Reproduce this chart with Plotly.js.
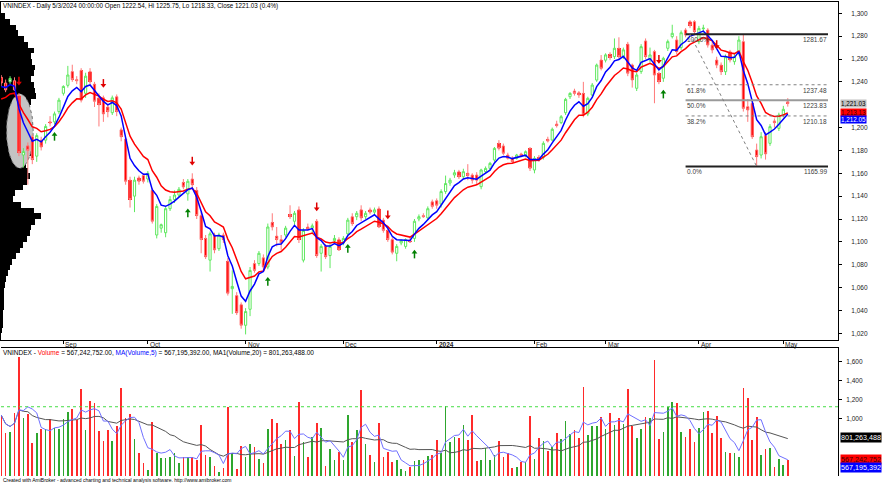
<!DOCTYPE html>
<html><head><meta charset="utf-8">
<script src="https://cdn.plot.ly/plotly-3.0.1.min.js"></script>
<style>html,body{margin:0;padding:0;background:#fff;}#chart{width:884px;height:500px;}</style>
</head><body><div id="chart"></div>
<script>
// ---------------- DATA ----------------
const dates = [
'2023-08-14','2023-08-15','2023-08-16','2023-08-17','2023-08-18','2023-08-21','2023-08-22','2023-08-23','2023-08-24','2023-08-25','2023-08-28','2023-08-29','2023-08-30','2023-08-31',
'2023-09-05','2023-09-06','2023-09-07','2023-09-08','2023-09-11','2023-09-12','2023-09-13','2023-09-14','2023-09-15','2023-09-18','2023-09-19','2023-09-20','2023-09-21','2023-09-22','2023-09-25','2023-09-26','2023-09-27','2023-09-28','2023-09-29',
'2023-10-02','2023-10-03','2023-10-04','2023-10-05','2023-10-06','2023-10-09','2023-10-10','2023-10-11','2023-10-12','2023-10-13','2023-10-16','2023-10-17','2023-10-18','2023-10-19','2023-10-20','2023-10-23','2023-10-24','2023-10-25','2023-10-26','2023-10-27','2023-10-30','2023-10-31',
'2023-11-01','2023-11-02','2023-11-03','2023-11-06','2023-11-07','2023-11-08','2023-11-09','2023-11-10','2023-11-13','2023-11-14','2023-11-15','2023-11-16','2023-11-17','2023-11-20','2023-11-21','2023-11-22','2023-11-23','2023-11-24','2023-11-27','2023-11-28','2023-11-29','2023-11-30',
'2023-12-01','2023-12-04','2023-12-05','2023-12-06','2023-12-07','2023-12-08','2023-12-11','2023-12-12','2023-12-13','2023-12-14','2023-12-15','2023-12-18','2023-12-19','2023-12-20','2023-12-21','2023-12-22','2023-12-25','2023-12-26','2023-12-27','2023-12-28','2023-12-29',
'2024-01-02','2024-01-03','2024-01-04','2024-01-05','2024-01-08','2024-01-09','2024-01-10','2024-01-11','2024-01-12','2024-01-15','2024-01-16','2024-01-17','2024-01-18','2024-01-19','2024-01-22','2024-01-23','2024-01-24','2024-01-25','2024-01-26','2024-01-29','2024-01-30','2024-01-31',
'2024-02-01','2024-02-02','2024-02-05','2024-02-06','2024-02-07','2024-02-15','2024-02-16','2024-02-19','2024-02-20','2024-02-21','2024-02-22','2024-02-23','2024-02-26','2024-02-27','2024-02-28','2024-02-29',
'2024-03-01','2024-03-04','2024-03-05','2024-03-06','2024-03-07','2024-03-08','2024-03-11','2024-03-12','2024-03-13','2024-03-14','2024-03-15','2024-03-18','2024-03-19','2024-03-20','2024-03-21','2024-03-22','2024-03-25','2024-03-26','2024-03-27','2024-03-28','2024-03-29',
'2024-04-01','2024-04-02','2024-04-03','2024-04-04','2024-04-05','2024-04-08','2024-04-09','2024-04-10','2024-04-11','2024-04-12','2024-04-15','2024-04-16','2024-04-17','2024-04-19','2024-04-22','2024-04-23','2024-04-24','2024-04-25','2024-04-26',
'2024-05-02','2024-05-03'];

const openP = [1244,1239,1240,1241,1228,1176,1184,1192,1175,1189,1189,1205,1205,1214,
1230,1237,1249,1242,1250,1230,1249,1238,1226,1226,1218,1213,1227,1198,1190,1154,1140,1156,1158,
1155,1145,1106,1112,1108,1129,1137,1141,1152,1142,1155,1145,1123,1103,1084,1106,1094,1106,1083,1059,1053,1045,
1027,1041,1081,1081,1086,1078,1117,1105,1102,1106,1124,1118,1128,1084,1113,1112,1118,1090,1096,1088,1101,1102,
1099,1107,1122,1122,1128,1122,1128,1126,1129,1119,1110,1102,1090,1099,1096,1101,1103,1120,1123,1121,1135,
1136,1133,1144,1151.5,1158.5,1161.4,1157,1160,1158.5,1158.5,1148.3,1161.4,1164.3,1171.6,1186.2,1183.9,1176,1173.1,1173.1,1176.9,1175.1,1181.8,
1162.9,1174,1174,1189.7,1189.1,1203.1,1204.3,1213,1227,1232,1230.5,1229.9,1211.9,1228.5,1241.6,1259.1,
1259,1264.1,1262.1,1269.4,1262.1,1272.9,1254.8,1234.4,1249,1275.8,1259.2,1266.5,1247.5,1243.2,1269.4,1279.6,1276.7,1270,1285.4,1292.7,1292.7,
1275.2,1286.5,1285.4,1272.2,1259.1,1254.7,1248.9,1266.4,1257.7,1265,1275.2,1218.3,1221.2,1180.4,1176,1193,1186.2,1205.8,1199.3,
1211,1222.54];

const highP = [1246,1242,1245,1244,1230,1182,1187,1194,1195,1192,1203,1210,1214,1226,
1237,1254,1255,1245,1252,1248,1252,1240,1230,1228,1220,1228,1229,1200,1192,1157,1157,1158,1160,
1162,1147,1133,1116,1131,1140,1145,1148,1155,1155,1160,1148,1126,1106,1109,1108,1108,1108,1086,1075,1056,1047,
1042,1078,1084,1092,1089,1116,1125,1113,1106,1114,1132,1127,1131,1112,1116,1116,1120,1098,1098,1098,1106,1104,
1105,1121,1125,1127,1132,1127,1130,1130,1131,1121,1113,1104,1098,1102,1103,1104,1120,1124,1125,1131,1137,
1138,1146,1158,1156,1163,1163,1164,1168,1160,1161,1164,1166,1170,1183,1189,1186,1178,1175,1177,1178,1180,1183,
1175,1176,1188,1192,1200,1206,1211,1226,1231,1234,1232,1240,1227,1239,1256,1263.5,
1265,1266,1278,1279,1270,1275,1256,1248,1273,1278,1270,1268,1249,1262,1277,1290,1280,1285,1287,1294,1294,
1289,1290,1287,1275,1262,1257,1264,1268,1265,1280,1281,1225,1224,1186,1196,1196,1203,1208,1213,
1219,1225.75];

const lowP = [1236,1231,1238,1232,1175,1165,1150,1168,1170,1180,1186,1201,1203,1212,
1228,1235,1240,1238,1222,1226,1238,1218,1201,1205,1209,1211,1210,1188,1150,1130,1126,1150,1151,
1152,1116,1103,1108,1104,1127,1134,1139,1146,1136,1148,1120,1090,1085,1074,1090,1092,1099,1053,1037,1036,1024,
1019,1035,1073,1079,1075,1076,1110,1096,1093,1104,1120,1115,1099,1082,1110,1108,1086,1074,1085,1077,1099,1092,
1097,1105,1114,1119,1118,1120,1124,1124,1112,1108,1100,1089,1083,1097,1094,1099,1100,1118,1121,1119,1129,
1129,1130,1142,1149,1156,1155,1155,1154,1151,1150,1146,1160,1163,1170,1180,1176,1172,1169,1172,1174,1174,1162,
1160,1170,1172,1187,1188,1200,1203,1211,1225,1228,1226,1209,1210,1227,1240,1250,
1257,1259,1260,1260,1260,1245,1235,1232,1247,1260,1257,1221.3,1238,1240,1267,1278,1264,1268,1279,1287,1281,
1273,1283,1270,1265,1252,1246,1246,1257,1255,1263,1214,1205,1190,1166,1173,1172,1184,1200,1197,
1209,1218.33];

const closeP = [1239,1233,1243,1233,1178,1179,1180,1172,1193,1183,1201,1204,1212,1224,
1236,1246,1242,1241,1224,1245,1240,1223,1220,1212,1214,1226,1214,1192,1153,1137,1154,1153,1153,
1160,1118,1131,1115,1129,1137,1141,1146,1148,1153,1150,1123,1102,1087,1107,1093,1106,1102,1055,1061,1038,1027,
1039,1075,1075,1090,1078,1113,1113,1102,1099,1112,1122,1125,1102,1110,1111,1114,1088,1096,1087,1096,1103,1093,
1103,1119,1116,1125,1121,1125,1126,1128,1113,1110,1102,1091,1096,1101,1102,1100,1118,1122,1122,1129,1131,
1132,1144,1151,1154,1160.5,1157,1161.4,1158,1154,1154,1162.9,1164.3,1168.7,1181.8,1181.8,1177.5,1173.1,1170.2,1176,1175.1,1178.9,1164.3,
1173.1,1171.6,1186.2,1188.2,1198.5,1201.7,1209.5,1224.7,1229.9,1229.9,1228.5,1211,1225.6,1237.2,1254.7,1251.8,
1263.6,1261.2,1269.4,1262.1,1268,1247.5,1241.7,1246,1270.8,1262.1,1263.6,1246,1240.2,1260.6,1275.2,1282.5,1266.5,1283,1281.1,1289.2,1284,
1286.8,1287,1272.2,1267.9,1254.7,1248.9,1262,1259.1,1262,1276.6,1216.8,1215.4,1192,1174.6,1192,1177,1200.8,1204.3,1211,
1216,1221.03];

// volume, millions of shares
const volumeM = [1039,853,863,1056,1653,1004,1049,748,853,888,888,993,898,888,
993,1074,1098,986,1309,881,1190,1162,874,769,881,765,923,1320,1004,1049,783,642,537,
460,969,642,583,583,600,635,537,593,593,600,565,934,618,593,502,442,484,1127,635,467,713,
600,734,698,572,537,888,993,958,730,776,881,611,1179,751,600,811,951,898,506,681,565,653,
565,1039,758,881,1302,730,618,541,951,600,653,541,565,470,449,495,555,565,565,611,618,
776,635,1137,758,811,800,934,776,1039,555,565,688,565,618,765,600,635,477,495,548,548,1028,
576,793,765,660,706,846,786,976,835,881,793,1337,828,927,927,1021,
891,1063,934,1004,941,1313,927,793,888,1021,1004,1618,783,863,1127,1179,1169,863,804,888,758,
898,1074,1081,846,1028,793,646,635,642,600,1320,1214,776,1021,618,677,688,495,576,
512,567.24];

// buy / sell signal arrows
const buyDates  = ['2023-08-30','2023-10-13','2023-11-08','2023-12-04','2023-12-25','2024-03-20'];
const sellDates = ['2023-08-18','2023-09-18','2023-10-16','2023-11-23','2023-12-15','2024-03-19','2024-04-05'];

// price-volume distribution at the left (relative volume per 5-point price bin)
const profPrice = [1297.5,1292.5,1287.5,1282.5,1277.5,1272.5,1267.5,1262.5,1257.5,1252.5,1247.5,1242.5,1237.5,1232.5,1227.5,1222.5,1217.5,1212.5,1207.5,1202.5,1197.5,1192.5,1187.5,1182.5,1177.5,1172.5,1167.5,1162.5,1157.5,1152.5,1147.5,1142.5,1137.5,1132.5,1127.5,1122.5,1117.5,1112.5,1107.5,1102.5,1097.5,1092.5,1087.5,1082.5,1077.5,1072.5,1067.5,1062.5,1057.5,1052.5,1047.5,1042.5,1037.5,1032.5,1027.5,1022.5];
const profVol = [4,9,15,17,23,27,33,30,31,34,33,30,33,34,35,30,27,26,28,27,26,28,32,33,31,26,25,27,29,26,22,14,12,20,33,40,34,30,29,26,22,19,15,11,9,7,5,4,3,3,2.5,2.5,2,2,1.5,1];

// Fibonacci drawing
const fibHigh = 1281.67, fibLow = 1165.99;
const fibLevels = [1, 0.618, 0.5, 0.382, 0];
const fibLabels = ['100.0%','61.8%','50.0%','38.2%','0.0%'];

// axis labels
const monthTickDates = ['2023-09-05','2023-10-02','2023-11-01','2023-12-01','2024-01-02','2024-02-01','2024-03-01','2024-04-01','2024-05-02'];
const monthTickText  = ['Sep','Oct','Nov','Dec','<b>2024</b>','Feb','Mar','Apr','May'];
const priceTicks = [1020,1040,1060,1080,1100,1120,1140,1160,1180,1200,1240,1260,1280,1300]; // 1,220 is hidden under the close box
const volTicks = [1000,1200,1400,1600];  // 600M / 800M are hidden under the value boxes

// readouts printed on the chart
const headerText = 'VNINDEX - Daily 5/3/2024 00:00:00 Open 1222.54, Hi 1225.75, Lo 1218.33, Close 1221.03 (0.4%)';
const volHeaderText = 'VNINDEX - <span style="color:#ff0000">Volume</span> = 567,242,752.00, <span style="color:#0000ff">MA(Volume,5)</span> = 567,195,392.00, MA1(Volume,20) = 801,263,488.00';
const footerText = 'Created with AmiBroker - advanced charting and technical analysis software. http://www.amibroker.com';
const priceBoxes = [ {t:'1,221.03', v:1221.03, bg:'#c0c0c0', fc:'#000', s:0},
                     {t:'1,213.13', v:1213.13, bg:'#ff0000', fc:'#400000', s:0},
                     {t:'1,212.05', v:1212.05, bg:'#0000ff', fc:'#ffffff', s:-6} ];
const volBoxes = [ {t:'801,263,488', v:801.263, bg:'#000000', fc:'#ffffff', s:0},
                   {t:'567,242,752', v:567.243, bg:'#ff0000', fc:'#400000', s:0},
                   {t:'567,195,392', v:567.195, bg:'#0000ff', fc:'#ffffff', s:-8} ];
const volAlertLevel = 1126;   // dotted green level in the volume pane
const emaSeed5 = 1236, emaSeed10 = 1225; // value of each average at the first visible bar

// ---------------- INDICATORS ----------------
function ema(src, n, seed){ const a=2/(n+1); const o=[seed]; for(let i=1;i<src.length;i++) o.push(o[i-1]+a*(src[i]-o[i-1])); return o; }
function sma(src, n){ return src.map((v,i)=>{const s=Math.max(0,i-n+1); let t=0; for(let k=s;k<=i;k++) t+=src[k]; return t/(i-s+1);}); }
const ema5 = ema(closeP,5,emaSeed5), ema10 = ema(closeP,10,emaSeed10);
const volMA5 = sma(volumeM,5), volMA20 = sma(volumeM,20);
const isDown = closeP.map((c,i)=>c<openP[i]);

const idx = d => dates.indexOf(d);
const N = dates.length;
const xr = [-0.04, 188.3];
const FONT = 'Arial, "Liberation Sans", sans-serif';

// ellipse highlight (drawing object)
const ell = {cx:4.2, cy:1197, rx:3.0, ry:32.5};
const ex=[], ey=[];
for(let k=0;k<=72;k++){ const t=k/72*2*Math.PI; ex.push(ell.cx+ell.rx*Math.cos(t)); ey.push(ell.cy+ell.ry*Math.sin(t)); }

const traces = [
  {type:'bar', orientation:'h', x:profVol, y:profPrice, width:5, xaxis:'x', yaxis:'y',
   marker:{color:'#000', line:{width:0}}, hoverinfo:'skip'},
  {type:'scatter', mode:'lines', x:ex, y:ey, xaxis:'x2', yaxis:'y', fill:'toself', fillcolor:'#c4c4c4',
   line:{color:'#707070', width:1, dash:'dot'}, hoverinfo:'skip'},
  {type:'candlestick', x:dates, open:openP, high:highP, low:lowP, close:closeP, xaxis:'x3', yaxis:'y',
   increasing:{line:{color:'#5fe85f', width:1}, fillcolor:'#ffffff'},
   decreasing:{line:{color:'#ff7a7a', width:1}, fillcolor:'#ff0000'}, whiskerwidth:0, hoverinfo:'skip'},
  {type:'bar', x:dates, y:closeP.map((c,i)=>isDown[i]?openP[i]-c:null), base:closeP, width:0.72, xaxis:'x3', yaxis:'y',
   marker:{color:'#ff0000', line:{width:0}}, hoverinfo:'skip'},
  {type:'scatter', mode:'lines', x:dates, y:ema10, xaxis:'x3', yaxis:'y', line:{color:'#ff0000', width:1.5}, hoverinfo:'skip'},
  {type:'scatter', mode:'lines', x:dates, y:ema5, xaxis:'x3', yaxis:'y', line:{color:'#0000ff', width:1.5}, hoverinfo:'skip'},
  {type:'scatter', mode:'markers', x:buyDates, y:buyDates.map(d=>lowP[idx(d)]-9), xaxis:'x3', yaxis:'y',
   marker:{symbol:'triangle-up', size:5, color:'#008000'}, hoverinfo:'skip'},
  {type:'scatter', mode:'markers', x:buyDates, y:buyDates.map(d=>lowP[idx(d)]-12), xaxis:'x3', yaxis:'y',
   marker:{symbol:'line-ns', size:4, line:{color:'#008000', width:1.5}}, hoverinfo:'skip'},
  {type:'scatter', mode:'markers', x:sellDates, y:sellDates.map(d=>highP[idx(d)]+9), xaxis:'x3', yaxis:'y',
   marker:{symbol:'triangle-down', size:5, color:'#e00000'}, hoverinfo:'skip'},
  {type:'scatter', mode:'markers', x:sellDates, y:sellDates.map(d=>highP[idx(d)]+12), xaxis:'x3', yaxis:'y',
   marker:{symbol:'line-ns', size:4, line:{color:'#e00000', width:1.5}}, hoverinfo:'skip'},
  // volume pane
  {type:'bar', x:dates, y:volumeM, width:0.38, xaxis:'x4', yaxis:'y2',
   marker:{color:isDown.map(d=>d?'#ff2a2a':'#2ea62e'), line:{width:0}}, hoverinfo:'skip'},
  {type:'scatter', mode:'lines', x:dates, y:volMA20, xaxis:'x4', yaxis:'y2', line:{color:'#555555', width:1}, hoverinfo:'skip'},
  {type:'scatter', mode:'lines', x:dates, y:volMA5, xaxis:'x4', yaxis:'y2', line:{color:'#7070ff', width:1}, hoverinfo:'skip'}
];

const shapes = [];
const annotations = [];
const fibVals = fibLevels.map(f=>fibLow+(fibHigh-fibLow)*f);
const fibStyle = [{c:'#202020',w:2,d:'solid'},{c:'#808080',w:1,d:'dot'},{c:'#9a9a9a',w:2,d:'solid'},{c:'#808080',w:1,d:'dot'},{c:'#202020',w:2,d:'solid'}];
const fibX0 = 154, fibX1 = 186.05;
fibVals.forEach((v,k)=>{
  shapes.push({type:'line', xref:'x3', yref:'y', x0:fibX0, x1:fibX1, y0:v, y1:v, layer:'above',
    line:{color:fibStyle[k].c, width:fibStyle[k].w, dash:fibStyle[k].d}});
  annotations.push({xref:'x3', yref:'y', x:fibX0, y:v, text:fibLabels[k], showarrow:false, xanchor:'left', yanchor:'top',
    yshift:-1, font:{size:6.5, color:'#404040', family:FONT}, borderpad:0});
  annotations.push({xref:'x3', yref:'y', x:fibX1, y:v, text:v.toFixed(2), showarrow:false, xanchor:'right', yanchor:'top',
    yshift:-1, font:{size:6.5, color:'#404040', family:FONT}, borderpad:0});
});
shapes.push({type:'line', xref:'x3', yref:'y', x0:idx('2024-03-28'), y0:fibHigh, x1:idx('2024-04-19'), y1:fibLow, layer:'above',
  line:{color:'#808080', width:1, dash:'dot'}});
shapes.push({type:'line', xref:'x4', yref:'y2', x0:xr[0], x1:xr[1], y0:volAlertLevel, y1:volAlertLevel, layer:'above',
  line:{color:'#44dd44', width:1, dash:'dot'}});

// month labels, drawn to the right of their tick like AmiBroker does
monthTickDates.forEach((d,k)=>annotations.push({xref:'x3', yref:'paper', x:d, y:0.2774, xanchor:'left', yanchor:'middle',
  xshift:1, showarrow:false, text:monthTickText[k], font:{size:6.5, color:'#222', family:FONT}, borderpad:0}));

annotations.push({xref:'paper', yref:'paper', x:0.001, y:0.9926, xanchor:'left', yanchor:'middle', showarrow:false,
  text:headerText, font:{size:6.3, color:'#000', family:FONT}, borderpad:0});
annotations.push({xref:'paper', yref:'paper', x:0.001, y:0.2589, xanchor:'left', yanchor:'middle', showarrow:false,
  text:volHeaderText, font:{size:6.5, color:'#000', family:FONT}, borderpad:0});
annotations.push({xref:'paper', yref:'paper', x:0.001, y:-0.0084, xanchor:'left', yanchor:'middle', showarrow:false,
  text:footerText, font:{size:5, color:'#000', family:FONT}, borderpad:0});
priceBoxes.forEach(b=>annotations.push({xref:'paper', yref:'y', x:1.002, y:b.v, xanchor:'left', yanchor:'middle', yshift:b.s,
  showarrow:false, text:b.t, bgcolor:b.bg, font:{size:6.3, color:b.fc, family:FONT}, borderpad:0}));
volBoxes.forEach(b=>annotations.push({xref:'paper', yref:'y2', x:1.002, y:b.v, xanchor:'left', yanchor:'middle', yshift:b.s,
  showarrow:false, text:b.t, bgcolor:b.bg, font:{size:7.2, color:b.fc, family:FONT}, borderpad:0}));
if([openP,highP,lowP,closeP,volumeM].some(a=>a.length!==N)) annotations.push({xref:'paper',yref:'paper',x:0.5,y:0.5,showarrow:false,
  text:'LEN '+[openP,highP,lowP,closeP,volumeM].map(a=>a.length).join(',')+' N='+N, font:{size:20,color:'#f0f'}});

const axBase = {showgrid:false, zeroline:false, fixedrange:true};
const layout = {
  width:884, height:500, margin:{l:1, r:46, t:2, b:24, pad:0},
  paper_bgcolor:'#ffffff', plot_bgcolor:'#ffffff', showlegend:false, barmode:'overlay', bargap:0,
  font:{family:FONT, size:6.5, color:'#333'},
  xaxis:Object.assign({}, axBase, {domain:[0,1], range:[0,837], visible:false, anchor:'y'}),
  xaxis2:Object.assign({}, axBase, {overlaying:'x', type:'linear', range:xr, visible:false, anchor:'y'}),
  xaxis3:Object.assign({}, axBase, {overlaying:'x', type:'category', range:xr, autorange:false, anchor:'y', side:'bottom',
    showline:true, mirror:true, linecolor:'#000', linewidth:1, ticks:'outside', ticklen:3, tickcolor:'#000',
    tickvals:monthTickDates, showticklabels:false, rangeslider:{visible:false}}),
  yaxis:Object.assign({}, axBase, {domain:[0.2869,1], range:[1014.1,1309.9], side:'right', anchor:'x',
    showline:true, mirror:true, linecolor:'#000', linewidth:1, ticks:'outside', ticklen:3, tickcolor:'#000',
    tickvals:priceTicks, tickformat:',', ticklabelstandoff:8, tickfont:{size:6.5, color:'#222', family:FONT}}),
  xaxis4:Object.assign({}, axBase, {domain:[0,1], type:'category', range:xr, autorange:false, anchor:'y2', side:'top',
    showline:true, linecolor:'#000', linewidth:1, ticks:'', showticklabels:false}),
  yaxis2:Object.assign({}, axBase, {domain:[0,0.27], range:[397,1744], side:'right', anchor:'x4',
    showline:true, linecolor:'#000', linewidth:1, ticks:'outside', ticklen:3, tickcolor:'#000',
    tickvals:volTicks, tickformat:',', ticksuffix:'M', ticklabelstandoff:3,
    tickfont:{size:6.5, color:'#222', family:FONT}}),
  shapes:shapes, annotations:annotations
};
Plotly.newPlot('chart', traces, layout, {displayModeBar:false, staticPlot:true});
</script></body></html>
